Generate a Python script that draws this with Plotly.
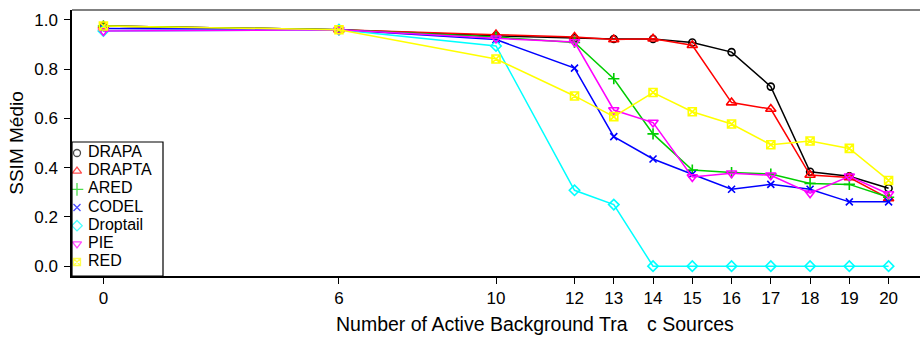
import plotly.graph_objects as go

x_vals = [0, 6, 10, 12, 13, 14, 15, 16, 17, 18, 19, 20]
drapa = [0.975, 0.96, 0.935, 0.925, 0.922, 0.922, 0.908, 0.869, 0.729, 0.383, 0.365, 0.316]
drapta = [0.975, 0.96, 0.94, 0.93, 0.92, 0.923, 0.897, 0.664, 0.638, 0.370, 0.360, 0.275]
ared = [0.975, 0.96, 0.93, 0.908, 0.761, 0.537, 0.390, 0.380, 0.374, 0.336, 0.332, 0.280]
codel = [0.965, 0.96, 0.92, 0.804, 0.526, 0.435, 0.373, 0.312, 0.332, 0.312, 0.261, 0.261]
droptail = [0.955, 0.96, 0.894, 0.308, 0.250, 0.0, 0.0, 0.0, 0.0, 0.0, 0.0, 0.0]
pie = [0.955, 0.96, 0.925, 0.91, 0.634, 0.583, 0.362, 0.377, 0.369, 0.296, 0.365, 0.293]
red = [0.975, 0.96, 0.841, 0.691, 0.607, 0.705, 0.627, 0.577, 0.493, 0.508, 0.478, 0.348]

names = ["DRAPA", "DRAPTA", "ARED", "CODEL", "Droptail", "PIE", "RED"]
series = [drapa, drapta, ared, codel, droptail, pie, red]
colors = ["#000000", "#FF0000", "#00CD00", "#0000FF", "#00FFFF", "#FF00FF", "#FFFF00"]
symbols = ["circle-open", "triangle-up-open", "cross-thin-open", "x-thin-open",
           "diamond-open", "triangle-down-open", "square-x-open"]
sizes = [7, 9, 8, 7, 8, 9, 8]

x_ticks = [0, 6, 10, 12, 13, 14, 15, 16, 17, 18, 19, 20]
y_ticks = [0.0, 0.2, 0.4, 0.6, 0.8, 1.0]

FONT = "Liberation Sans, Arial, sans-serif"

fig = go.Figure()
for name, ys, c, s, sz in zip(names, series, colors, symbols, sizes):
    fig.add_trace(go.Scatter(
        x=x_vals, y=ys, name=name, mode="lines+markers",
        line=dict(color=c, width=1.5),
        marker=dict(symbol=s, size=sz, color=c, line=dict(color=c, width=1.6)),
        showlegend=False,
    ))

# manual legend (R style) on overlay axes
leg_idx = list(range(len(names)))
fig.add_trace(go.Scatter(
    x=[5] * len(names), y=leg_idx, mode="markers", xaxis="x2", yaxis="y2",
    marker=dict(symbol=symbols, size=[7, 8, 9, 7, 8, 8, 7], color=colors,
                line=dict(color=colors, width=1.3)),
    showlegend=False, hoverinfo="skip",
))
fig.add_trace(go.Scatter(
    x=[16] * len(names), y=leg_idx, mode="text", xaxis="x2", yaxis="y2",
    text=names, textposition="middle right",
    textfont=dict(family=FONT, size=16, color="#000000"),
    showlegend=False, hoverinfo="skip",
))

W, H = 920, 340
ml, mr, mt, mb = 72, 0, 10, 64
pw = W - ml - mr
ph = H - mt - mb
leg_w = 91
leg_h = 134

fig.update_layout(
    width=W, height=H,
    margin=dict(l=ml, r=mr, t=mt, b=mb, pad=0),
    paper_bgcolor="white", plot_bgcolor="white",
    font=dict(family=FONT, size=17, color="#000000"),
    xaxis=dict(
        range=[-0.8, 20.8], tickvals=x_ticks, ticktext=[str(v) for v in x_ticks],
        showgrid=False, zeroline=False, showline=True, linecolor="#000000", linewidth=1.5,
        ticks="outside", ticklen=6, tickwidth=1, tickcolor="#000000",
        tickfont=dict(size=17),
    ),
    yaxis=dict(
        range=[-0.04, 1.04], tickvals=y_ticks, tickformat=".1f",
        showgrid=False, zeroline=False, showline=True, linecolor="#000000", linewidth=1.5,
        ticks="outside", ticklen=6, tickwidth=1, tickcolor="#000000",
        tickfont=dict(size=17), ticklabelstandoff=3,
        title=dict(text="SSIM Médio", font=dict(size=19), standoff=6),
    ),
    xaxis2=dict(domain=[0, leg_w / pw], range=[0, leg_w], visible=False, anchor="y2", fixedrange=True),
    yaxis2=dict(domain=[0, leg_h / ph], range=[6.77, -0.605], visible=False, anchor="x2", fixedrange=True),
    shapes=[
        dict(type="line", xref="paper", yref="paper", x0=0, x1=1, y0=1, y1=1,
             line=dict(color="#808080", width=2)),
        dict(type="rect", xref="paper", yref="paper", x0=0, x1=leg_w / pw, y0=0, y1=leg_h / ph,
             line=dict(color="#000000", width=1.2)),
    ],
    annotations=[
        dict(text="Number of Active Background Tra\u2002\u2002c Sources",
             xref="paper", yref="paper", x=(535 - ml) / pw, y=-(324 - 276) / ph,
             xanchor="center", yanchor="middle", showarrow=False,
             font=dict(family=FONT, size=19.5, color="#000000")),
    ],
)

fig.write_html("out.html")
